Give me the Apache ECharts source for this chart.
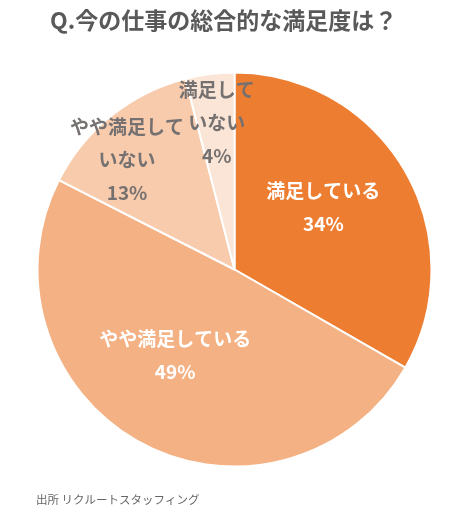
<!DOCTYPE html>
<html>
<head>
<meta charset="utf-8">
<script src="https://cdn.jsdelivr.net/npm/echarts@6/dist/echarts.min.js"></script>
<style>
  html, body { margin: 0; padding: 0; background: #fff; }
  #chart { width: 450px; height: 517px; }
</style>
</head>
<body>
<div id="chart"></div>
<script>
var categories = ['満足している', 'やや満足している', 'やや満足していない', '満足していない'];
var labelNames = ['満足している', 'やや満足している', 'やや満足して\nいない', '満足して\nいない'];
var values = [33.3, 49.2, 13.5, 4.0];
// percentages as printed on the chart
var percentLabels = ['34%', '49%', '13%', '4%'];
var colors = ['#ED7D31', '#F4B183', '#F8CBAD', '#FBE5D6'];
var labelColors = ['#ffffff', '#ffffff', '#767171', '#767171'];

// label shifts from the default "inside" spot, like Excel's placement
var labelShift = [[1, -11], [-11, -3], [-44, -31], [-5, -46]];

var chartDom = document.getElementById('chart');
var myChart = echarts.init(chartDom);

var pieData = categories.map(function (name, i) {
  return {
    name: name,
    value: values[i],
    itemStyle: { color: colors[i] },
    label: { color: labelColors[i] }
  };
});

var option = {
  animation: false,
  title: [
    {
      text: 'Q.今の仕事の総合的な満足度は？',
      left: 45,
      top: 4,
      textStyle: {
        fontFamily: 'Noto Sans CJK JP',
        fontSize: 23,
        fontWeight: 'bold',
        color: '#595959'
      }
    },
    {
      text: '出所 リクルートスタッフィング',
      left: 31,
      top: 489,
      textStyle: {
        fontFamily: 'Noto Sans CJK JP',
        fontSize: 11.5,
        fontWeight: 'normal',
        color: '#666666'
      }
    }
  ],
  series: [
    {
      type: 'pie',
      center: [234.5, 269.5],
      radius: 197,
      startAngle: 90,
      clockwise: true,
      avoidLabelOverlap: false,
      itemStyle: { borderColor: '#ffffff', borderWidth: 2 },
      label: {
        show: true,
        position: 'inside',
        fontFamily: 'Noto Sans CJK JP',
        fontSize: 19,
        fontWeight: 'bold',
        lineHeight: 33,
        formatter: function (p) {
          return labelNames[p.dataIndex] + '\n' + percentLabels[p.dataIndex];
        }
      },
      labelLayout: function (params) {
        var s = labelShift[params.dataIndex];
        return { dx: s[0], dy: s[1] };
      },
      labelLine: { show: false },
      emphasis: { disabled: true },
      data: pieData
    }
  ]
};

option && myChart.setOption(option);
</script>
</body>
</html>
